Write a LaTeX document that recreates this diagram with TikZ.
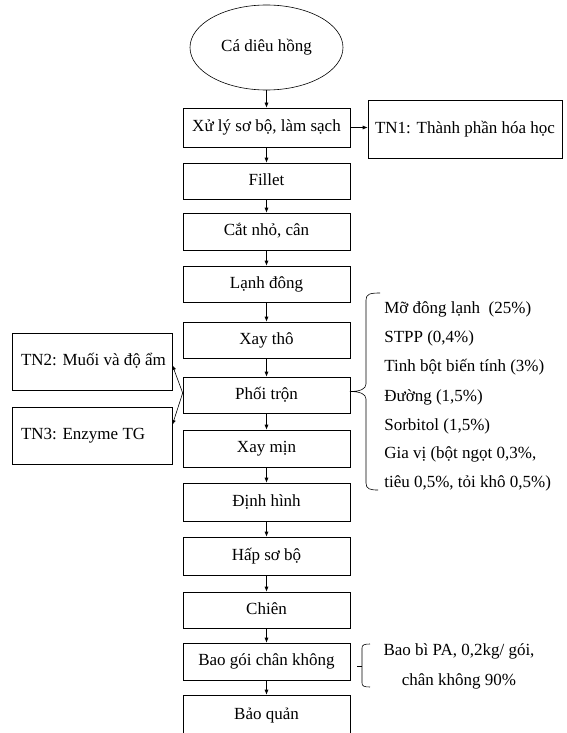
\documentclass[tikz,border=0pt]{standalone}
\usepackage{fontspec}
\setmainfont{Liberation Serif}
\usetikzlibrary{arrows.meta,shapes.geometric}
\begin{document}
\begin{tikzpicture}[x=1pt,y=-1pt,line width=0.6pt,
  every node/.style={font=\fontsize{17}{20}\selectfont},
  procbox/.style={draw,minimum width=167pt,text height=11.5pt,text depth=3.5pt,inner sep=0pt},
  sidebox/.style={draw,text height=11.5pt,text depth=3.5pt,inner sep=0pt},
  arr/.style={-{Latex[length=5pt,width=4pt]}},
  txt/.style={anchor=base west,inner sep=0pt}]
\clip (0,0) rectangle (567,733);
\fill[white] (0,0) rectangle (567,733);
% main chain
\node[draw,ellipse,minimum width=153pt,minimum height=85pt,inner sep=0pt] (ca) at (266.5,47.5) {Cá diêu hồng};
\node[procbox,minimum height=39pt] (b1) at (266.5,127.5) {Xử lý sơ bộ, làm sạch};
\node[procbox,minimum height=36pt] (b2) at (266.5,181) {Fillet};
\node[procbox,minimum height=37pt] (b3) at (266.5,231.5) {Cắt nhỏ, cân};
\node[procbox,minimum height=36pt] (b4) at (266.5,284) {Lạnh đông};
\node[procbox,minimum height=36pt] (b5) at (266.5,340) {Xay thô};
\node[procbox,minimum height=36pt] (b6) at (266.5,395) {Phối trộn};
\node[procbox,minimum height=37pt] (b7) at (266.5,448.5) {Xay mịn};
\node[procbox,minimum height=38pt] (b8) at (266.5,502) {Định hình};
\node[procbox,minimum height=38pt] (b9) at (266.5,556) {Hấp sơ bộ};
\node[procbox,minimum height=36pt] (b10) at (266.5,610) {Chiên};
\node[procbox,minimum height=37pt] (b11) at (266.5,661.5) {Bao gói chân không};
\node[procbox,minimum height=40pt] (b12) at (266.5,715) {Bảo quản};
\draw[arr] (ca.south) -- (b1.north);
\foreach \a/\b in {b1/b2,b2/b3,b3/b4,b4/b5,b5/b6,b6/b7,b7/b8,b8/b9,b9/b10,b10/b11,b11/b12}
  \draw[arr] (\a.south) -- (\b.north);
% side boxes
\node[sidebox,minimum width=194pt,minimum height=58pt] (tn1) at (465,129) {TN1: Thành phần hóa học};
\node[sidebox,minimum width=160pt,minimum height=57pt] (tn2) at (92,361.5) {\makebox[142pt][l]{TN2: Muối và độ ẩm}};
\node[sidebox,minimum width=160pt,minimum height=57pt] (tn3) at (92,435.5) {\makebox[142pt][l]{TN3: Enzyme TG}};
\draw[arr] (b1.east) -- (b1.east -| tn1.west);
\draw[arr] ([yshift=2pt]b6.west) -- ([yshift=-3.5pt]tn2.east);
\draw[arr] ([yshift=2pt]b6.west) -- ([yshift=10.5pt]tn3.east);
% ingredients brace
\draw (380,293) .. controls (370,293) and (366,294) .. (366,300) -- (366,384)
  .. controls (366,389) and (360,391.5) .. (350,391.5)
  .. controls (360,391.5) and (366,394) .. (366,399) -- (366,483)
  .. controls (366,489) and (370,490) .. (378,490);
\node[txt] (i1) at (384,313.5) {Mỡ đông lạnh\ \ (25\%)};
\node[txt] (i2) at (384,342.5) {STPP (0,4\%)};
\node[txt] (i3) at (384,371.5) {Tinh bột biến tính (3\%)};
\node[txt] (i4) at (384,401.5) {Đường (1,5\%)};
\node[txt] (i5) at (384,430.5) {Sorbitol (1,5\%)};
\node[txt] (i6) at (384,458.5) {Gia vị (bột ngọt 0,3\%,};
\node[txt] (i7) at (384,487.5) {tiêu 0,5\%, tỏi khô 0,5\%)};
% packaging brace
\draw (370,644) .. controls (364,644) and (362,645) .. (362,648) -- (362,683)
  .. controls (362,686) and (364,687) .. (370,687);
\draw (357,666) -- (362,666);
\node[align=center,font=\fontsize{17}{30}\selectfont] (pk) at (459,666) {Bao bì PA, 0,2kg/ gói,\\chân không 90\%};
\end{tikzpicture}
\end{document}
